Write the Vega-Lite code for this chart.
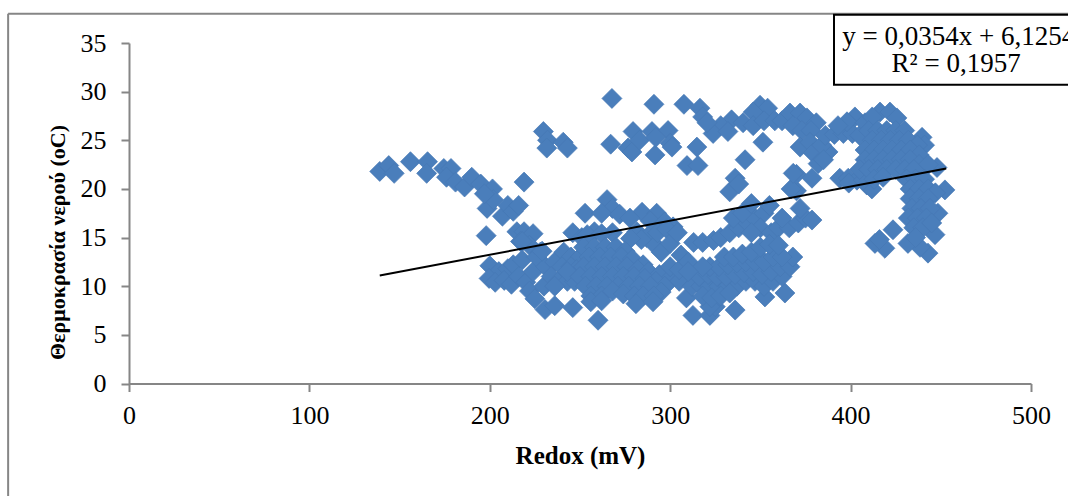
{"$schema":"https://vega.github.io/schema/vega-lite/v6.json","width":902,"height":340.5,"autosize":"none","padding":{"left":129,"top":43,"right":37,"bottom":112.5},"background":"white","config":{"view":{"stroke":null}},"datasets":{"pts":[
{"x":139,"y":21.8},{"x":144,"y":22.4},{"x":147,"y":21.6},{"x":156,"y":22.8},{"x":165.5,"y":22.8},{"x":165,"y":21.6},{"x":174.5,"y":22.1},{"x":178.5,"y":22.1},{"x":176,"y":21.2},{"x":181,"y":20.7},{"x":186,"y":20.2},{"x":190,"y":21.2},{"x":195,"y":20.5},{"x":201.5,"y":20},{"x":198.5,"y":18},{"x":202,"y":18.9},{"x":197,"y":19.5},{"x":207,"y":17.2},{"x":210,"y":18.3},{"x":213,"y":17.7},{"x":216,"y":18.3},{"x":219,"y":20.7},{"x":198,"y":15.2},{"x":215,"y":15.6},{"x":219,"y":15.6},{"x":217,"y":14.6},{"x":224,"y":15.4},{"x":222,"y":14.2},{"x":218,"y":14.6},{"x":228,"y":13.5},
{"x":200,"y":12.1},{"x":205,"y":11.5},{"x":210,"y":11.8},{"x":213,"y":12.2},{"x":218,"y":12.7},{"x":199.6,"y":10.8},{"x":203,"y":10.4},{"x":208,"y":10.6},{"x":212,"y":10.2},{"x":216,"y":11},{"x":220,"y":10.4},{"x":224,"y":11.5},{"x":222,"y":9.5},{"x":225,"y":8.7},{"x":230,"y":10},{"x":226,"y":13},{"x":231,"y":12},{"x":236,"y":12.5},{"x":229,"y":13.6},{"x":234,"y":11},{"x":238,"y":10.5},{"x":243,"y":10.5},{"x":247,"y":10.5},{"x":241,"y":13.5},{"x":245,"y":13},{"x":250,"y":13},{"x":230.6,"y":7.6},{"x":236,"y":8},{"x":246,"y":7.8},{"x":240,"y":12},{"x":245,"y":12},{"x":248,"y":11.7},{"x":243,"y":11.5},{"x":236,"y":10},
{"x":252.8,"y":17.5},{"x":265,"y":18.9},{"x":268,"y":18},{"x":262,"y":17.5},{"x":272,"y":17.4},{"x":284.4,"y":17.6},{"x":292.5,"y":17.5},{"x":277.7,"y":17},{"x":289,"y":16.7},{"x":297,"y":16.6},{"x":301.6,"y":16.1},{"x":246,"y":15.5},{"x":251,"y":15},{"x":258,"y":15.6},{"x":254,"y":15.3},{"x":268,"y":15.5},{"x":262,"y":15.4},{"x":281.5,"y":15.6},{"x":287,"y":15},{"x":291.6,"y":14.2},{"x":284,"y":14.8},{"x":278,"y":14.9},{"x":293,"y":15.5},{"x":298,"y":15.9},
{"x":252,"y":14},{"x":258,"y":14},{"x":264,"y":14},{"x":270,"y":14},{"x":275,"y":13.6},{"x":255,"y":13},{"x":261,"y":13},{"x":267,"y":13},{"x":273,"y":13},{"x":279,"y":12.8},{"x":285,"y":12.2},{"x":252,"y":12},{"x":258,"y":12},{"x":264,"y":12},{"x":270,"y":12},{"x":276,"y":12},{"x":282,"y":11.7},{"x":288,"y":11.5},{"x":294,"y":11.2},{"x":300,"y":10.8},{"x":305,"y":10.5},{"x":250,"y":11},{"x":256,"y":11},{"x":262,"y":11},{"x":268,"y":11},{"x":274,"y":11},{"x":280,"y":11},{"x":286,"y":10.8},{"x":292,"y":10.5},{"x":297,"y":10},{"x":253,"y":10},{"x":259,"y":10},{"x":265,"y":10},{"x":271,"y":10},{"x":277,"y":10},{"x":283,"y":10},{"x":289,"y":10},{"x":295,"y":9.4},{"x":256,"y":9},{"x":262,"y":9},{"x":268,"y":9.5},{"x":274,"y":9.2},{"x":280,"y":9},{"x":285,"y":9},{"x":291,"y":9},{"x":256,"y":8.4},{"x":262,"y":8.5},{"x":281,"y":8.2},{"x":290.5,"y":8.4},{"x":260,"y":6.5},{"x":309,"y":8.8},{"x":312.6,"y":7},{"x":322,"y":7},{"x":325,"y":7.9},{"x":322,"y":7.9},{"x":336,"y":7.55},{"x":352.5,"y":8.9},{"x":363.6,"y":9.3},
{"x":295,"y":13.5},{"x":300,"y":14.4},{"x":306,"y":13.2},{"x":304,"y":15.5},{"x":300,"y":12},{"x":305,"y":11.7},{"x":310,"y":12.5},
{"x":313,"y":14.5},{"x":318,"y":14.5},{"x":324,"y":14.7},{"x":328,"y":15},{"x":333,"y":15.5},{"x":338,"y":16},{"x":343,"y":16.5},{"x":347,"y":17},{"x":352,"y":17.5},{"x":355,"y":18.3},{"x":335,"y":17},{"x":340,"y":17.5},{"x":345,"y":18.5},{"x":350,"y":16},{"x":356,"y":15.5},{"x":360,"y":16},{"x":366,"y":16},{"x":371,"y":16.5},{"x":375,"y":17},{"x":378.6,"y":16.8},{"x":372,"y":18},{"x":370,"y":19.8},{"x":367,"y":20},{"x":370,"y":21.5},{"x":362,"y":17},{"x":345,"y":15.5},
{"x":312,"y":10},{"x":317,"y":10},{"x":322,"y":10},{"x":327,"y":10},{"x":332,"y":10},{"x":337,"y":10},{"x":342,"y":10.5},{"x":347,"y":10.5},{"x":352,"y":10},{"x":357,"y":10.5},{"x":362,"y":11},{"x":318,"y":9},{"x":323,"y":8.8},{"x":328,"y":9},{"x":333,"y":9.3},{"x":316,"y":11},{"x":321,"y":11.2},{"x":326,"y":11},{"x":331,"y":11},{"x":336,"y":11.2},{"x":341,"y":11.4},{"x":346,"y":11.5},{"x":351,"y":11.2},{"x":356,"y":11.5},{"x":361,"y":12},{"x":366.4,"y":12},{"x":368,"y":13},{"x":322,"y":12},{"x":327,"y":12},{"x":332,"y":12.2},{"x":337,"y":12.4},{"x":342,"y":12.5},{"x":347,"y":12.5},{"x":352,"y":12.5},{"x":357,"y":13},{"x":362,"y":13},{"x":330,"y":13},{"x":335,"y":13},{"x":340,"y":13.3},{"x":345,"y":13.5},{"x":350,"y":14},{"x":355,"y":14.3},{"x":360,"y":14.2},{"x":318,"y":12},{"x":310,"y":11.5},
{"x":267.7,"y":29.3},{"x":291,"y":28.7},{"x":307.6,"y":28.7},{"x":316.5,"y":28.3},{"x":318,"y":27.4},{"x":229.7,"y":25.9},{"x":232,"y":25},{"x":231.6,"y":24.2},{"x":240.7,"y":24.8},{"x":243,"y":24.2},{"x":267,"y":24.6},{"x":279.4,"y":25.9},{"x":289.9,"y":25.9},{"x":298.8,"y":26},{"x":276.6,"y":24.2},{"x":278.8,"y":23.8},{"x":283,"y":25},{"x":291.6,"y":23.5},{"x":300,"y":24.7},{"x":301,"y":24.3},{"x":292,"y":25.3},{"x":314.8,"y":24.3},{"x":309.3,"y":22.4},{"x":315.4,"y":22.4},
{"x":349.8,"y":28.6},{"x":354,"y":28.3},{"x":346,"y":27.9},{"x":334,"y":27.1},{"x":328,"y":26.5},{"x":323.8,"y":25.7},{"x":320.4,"y":26.8},{"x":332,"y":25.9},{"x":340.4,"y":26.8},{"x":346,"y":26.5},{"x":352,"y":27},{"x":358,"y":27},{"x":362,"y":27},{"x":366.4,"y":27.8},{"x":372,"y":27.8},{"x":368,"y":26.5},{"x":375.8,"y":27.3},{"x":381,"y":26.8},{"x":373,"y":26},{"x":378,"y":26},{"x":351.4,"y":24.8},{"x":341.5,"y":23},{"x":336,"y":21.1},{"x":333,"y":19.7},{"x":338,"y":20.5},{"x":372,"y":24.3},{"x":377.5,"y":24.8},{"x":387.5,"y":23.8},{"x":379.2,"y":23.7},{"x":384,"y":24.5},{"x":382,"y":22.6},{"x":378.6,"y":21.1},{"x":368.2,"y":21.6},{"x":385,"y":23},{"x":394,"y":21.1},{"x":398.7,"y":21.1},{"x":403.5,"y":20.9},{"x":409,"y":20.4},{"x":399,"y":20.6},{"x":386,"y":25.5},{"x":391,"y":25.6},{"x":396,"y":25.7},{"x":401,"y":25.7},{"x":405,"y":25.5},
{"x":416.3,"y":27.9},{"x":421.8,"y":27.9},{"x":402.4,"y":27.4},{"x":398,"y":26.9},{"x":393,"y":26.5},{"x":408,"y":26.8},{"x":412,"y":27.4},{"x":425.7,"y":27.3},{"x":439.6,"y":25.3},{"x":441,"y":24.5},{"x":447.9,"y":22.2},{"x":452.3,"y":19.9},{"x":448.4,"y":17.5},{"x":446.8,"y":15.3},{"x":442.9,"y":13.4},{"x":438.5,"y":14},{"x":431.8,"y":14.4},{"x":423.5,"y":15.8},{"x":419,"y":13.9},{"x":413.5,"y":14.4},{"x":416,"y":14.8},{"x":411.8,"y":20},{"x":407,"y":20.9},
{"x":410,"y":26},{"x":415,"y":26},{"x":420,"y":26},{"x":425,"y":26},{"x":430,"y":26},{"x":412,"y":25},{"x":417,"y":25},{"x":422,"y":25},{"x":427,"y":25},{"x":432,"y":25},{"x":437,"y":24.5},{"x":408,"y":24},{"x":413,"y":24},{"x":418,"y":24},{"x":423,"y":24},{"x":428,"y":24},{"x":433,"y":24},{"x":438,"y":23.5},{"x":408,"y":23},{"x":413,"y":23},{"x":418,"y":23},{"x":423,"y":23},{"x":428,"y":23},{"x":433,"y":23},{"x":438,"y":22.5},{"x":443,"y":22.5},{"x":405,"y":22},{"x":410,"y":22},{"x":415,"y":22},{"x":420,"y":22},{"x":425,"y":22},{"x":430,"y":22},{"x":435,"y":22},{"x":413,"y":21},{"x":418,"y":21.2},{"x":431,"y":21},{"x":436,"y":21},{"x":441,"y":21},{"x":433,"y":20},{"x":438,"y":20},{"x":443,"y":20},{"x":447,"y":19.6},{"x":433,"y":19},{"x":438,"y":19},{"x":443,"y":19},{"x":434,"y":18},{"x":439,"y":18},{"x":444,"y":18},{"x":432,"y":17},{"x":437,"y":17},{"x":442,"y":17},{"x":435,"y":16},{"x":440,"y":16},{"x":445,"y":16.5},{"x":436,"y":15}
],"trend":[{"x":139,"y":11.1},{"x":453,"y":22.1}],"frame":[{"x":-67,"x2":-67,"y":38,"y2":-12},{"x":-67,"x2":525,"y":38,"y2":38}],"box":[{"x":390.8,"x2":530,"y":37.9,"y2":30.7}],"eq":[{"x":460,"y":35.6,"t":"y = 0,0354x + 6,1254"},{"x":458.5,"y":32.8,"t":"R² = 0,1957"}]},
"layer":[
{"data":{"name":"frame"},"mark":{"type":"rule","stroke":"#868686","strokeWidth":2,"clip":false},"encoding":{"x":{"field":"x","type":"quantitative","scale":{"domain":[0,500],"nice":false},"axis":{"values":[0,100,200,300,400,500],"title":"Redox (mV)","grid":false,"domainColor":"#868686","domainWidth":2,"tickColor":"#868686","tickWidth":2,"tickSize":8,"labelFlush":false,"labelFont":"Liberation Serif","labelFontSize":26,"labelColor":"black","labelPadding":11,"titleFont":"Liberation Serif","titleFontSize":25,"titleFontWeight":"bold","titleColor":"black","titleBaseline":"middle","titleY":71.5}},"x2":{"field":"x2"},"y":{"field":"y","type":"quantitative","scale":{"domain":[0,35],"nice":false},"axis":{"values":[0,5,10,15,20,25,30,35],"title":"Θερμοκρασία νερού (oC)","grid":false,"domainColor":"#868686","domainWidth":2,"tickColor":"#868686","tickWidth":2,"tickSize":8,"labelFlush":false,"labelFont":"Liberation Serif","labelFontSize":26,"labelColor":"black","labelPadding":15,"titleFont":"Liberation Serif","titleFontSize":22,"titleFontWeight":"bold","titleColor":"black","titleBaseline":"middle","titleX":-72,"titleY":199}},"y2":{"field":"y2"}}},
{"data":{"name":"pts"},"mark":{"type":"point","shape":"diamond","filled":true,"size":400,"fill":"#4a7ebb","opacity":1,"stroke":"#4678b4","strokeWidth":0.7},"encoding":{"x":{"field":"x","type":"quantitative"},"y":{"field":"y","type":"quantitative"}}},
{"data":{"name":"trend"},"mark":{"type":"line","color":"black","strokeWidth":2},"encoding":{"x":{"field":"x","type":"quantitative"},"y":{"field":"y","type":"quantitative"}}},
{"data":{"name":"box"},"mark":{"type":"rect","fill":"white","stroke":"black","strokeWidth":2,"clip":false},"encoding":{"x":{"field":"x","type":"quantitative"},"x2":{"field":"x2"},"y":{"field":"y","type":"quantitative"},"y2":{"field":"y2"}}},
{"data":{"name":"eq"},"mark":{"type":"text","font":"Liberation Serif","fontSize":27,"color":"black","align":"center","baseline":"middle","clip":false},"encoding":{"x":{"field":"x","type":"quantitative"},"y":{"field":"y","type":"quantitative"},"text":{"field":"t"}}}
]}
